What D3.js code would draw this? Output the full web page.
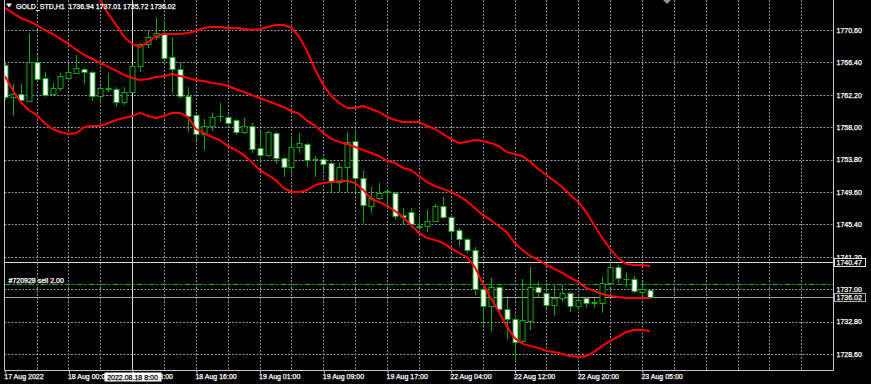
<!DOCTYPE html>
<html>
<head>
<meta charset="utf-8">
<script src="https://cdn.jsdelivr.net/npm/d3@7"></script>
<style>
  body { margin: 0; background: #000; }
  svg { display: block; }
  text { font-family: 'Liberation Sans', Arial, sans-serif; font-size: 7px; fill: #fff; stroke: #fff; stroke-width: 0.25px; }
</style>
</head>
<body>
<div id="chart"></div>
<script>
// chart data
const priceTicks = [1770.6, 1766.4, 1762.2, 1758.0, 1753.8, 1749.6, 1745.4, 1741.2, 1737.0, 1732.8, 1728.6];
const timeTickBars = [0, 8, 16, 24, 32, 40, 48, 56, 64, 72, 80];
const timeTickLabels = ['17 Aug 2022', '18 Aug 00:00', '18 Aug 08:00', '18 Aug 16:00', '19 Aug 01:00',
  '19 Aug 09:00', '19 Aug 17:00', '22 Aug 04:00', '22 Aug 12:00', '22 Aug 20:00', '23 Aug 05:00'];

const openPrices = [1766.07, 1761.92, 1762.31, 1761.40, 1766.45, 1764.38, 1762.31, 1763.09, 1764.38, 1765.03,
  1765.55, 1765.16, 1762.05, 1763.02, 1762.96, 1761.27, 1762.57, 1765.94, 1768.79, 1769.69,
  1770.21, 1767.10, 1765.55, 1762.05, 1759.59, 1757.12, 1758.16, 1759.46, 1759.33, 1758.94,
  1757.38, 1758.16, 1755.31, 1754.40, 1757.25, 1754.01, 1752.85, 1755.44, 1755.83, 1753.82,
  1753.88, 1753.37, 1750.90, 1752.85, 1756.22, 1751.42, 1747.79, 1748.83, 1749.67, 1749.48,
  1746.63, 1747.01, 1745.07, 1745.20, 1745.85, 1747.79, 1746.37, 1744.68, 1743.52, 1742.09,
  1737.04, 1734.83, 1737.29, 1734.44, 1733.15, 1730.30, 1732.89, 1737.29, 1736.52, 1734.96,
  1735.87, 1736.52, 1734.83, 1735.87, 1735.22, 1735.22, 1737.81, 1739.89, 1738.27, 1738.33,
  1736.65, 1736.94];
const highPrices = [1766.45, 1763.60, 1763.60, 1770.08, 1767.62, 1765.16, 1763.73, 1765.03, 1766.07, 1767.36,
  1765.68, 1765.29, 1763.34, 1765.03, 1763.21, 1763.21, 1766.07, 1768.92, 1770.47, 1772.16,
  1771.77, 1769.69, 1766.33, 1763.21, 1759.85, 1759.07, 1759.85, 1761.14, 1759.46, 1759.07,
  1759.20, 1758.55, 1757.51, 1757.51, 1757.38, 1754.14, 1756.73, 1757.25, 1755.96, 1754.27,
  1754.14, 1753.49, 1753.37, 1757.38, 1757.77, 1752.33, 1750.25, 1750.77, 1749.87, 1749.61,
  1747.53, 1747.53, 1746.63, 1747.27, 1748.05, 1748.96, 1746.50, 1744.94, 1743.65, 1742.48,
  1737.29, 1738.46, 1737.42, 1735.87, 1733.28, 1738.33, 1739.89, 1737.94, 1737.81, 1737.55,
  1737.55, 1736.65, 1736.26, 1736.00, 1735.87, 1738.59, 1740.41, 1740.15, 1739.11, 1738.72,
  1737.94, 1737.01];
const lowPrices = [1761.53, 1759.46, 1761.40, 1761.27, 1763.86, 1761.92, 1762.05, 1762.70, 1764.12, 1764.90,
  1763.60, 1761.40, 1761.40, 1762.57, 1760.62, 1760.88, 1762.44, 1765.16, 1768.27, 1769.31,
  1766.45, 1762.44, 1761.66, 1757.38, 1756.35, 1755.05, 1757.51, 1758.68, 1758.03, 1756.99,
  1757.12, 1754.66, 1753.37, 1754.14, 1753.24, 1751.55, 1752.07, 1754.66, 1752.85, 1751.55,
  1752.33, 1749.48, 1749.61, 1749.61, 1749.61, 1745.59, 1746.89, 1748.57, 1747.92, 1745.98,
  1745.33, 1745.07, 1744.94, 1744.42, 1745.72, 1746.11, 1743.65, 1742.61, 1741.70, 1736.26,
  1732.24, 1731.46, 1733.80, 1730.43, 1727.57, 1730.04, 1731.72, 1736.00, 1734.57, 1733.54,
  1735.35, 1734.05, 1734.31, 1734.57, 1734.57, 1733.93, 1737.68, 1737.81, 1737.29, 1736.52,
  1735.87, 1735.72];
const closePrices = [1761.92, 1762.31, 1761.53, 1766.45, 1764.25, 1762.18, 1763.09, 1764.64, 1765.16, 1765.68,
  1765.16, 1762.05, 1763.09, 1763.09, 1761.27, 1762.57, 1765.94, 1768.79, 1769.69, 1770.21,
  1766.97, 1765.55, 1762.05, 1759.46, 1757.12, 1758.16, 1759.33, 1759.50, 1758.55, 1757.38,
  1758.16, 1755.18, 1754.40, 1757.38, 1754.01, 1752.85, 1755.44, 1755.96, 1753.75, 1753.88,
  1753.24, 1750.90, 1752.85, 1756.09, 1751.42, 1747.92, 1748.83, 1749.48, 1749.48, 1746.50,
  1746.37, 1745.46, 1745.14, 1745.85, 1747.79, 1746.37, 1744.55, 1743.52, 1742.09, 1737.04,
  1734.83, 1737.29, 1734.44, 1733.15, 1730.17, 1733.02, 1737.29, 1736.65, 1734.96, 1735.87,
  1736.52, 1734.83, 1735.61, 1735.22, 1735.29, 1737.81, 1739.89, 1738.46, 1738.33, 1736.78,
  1737.04, 1736.02];

const bandUpper = [1782.27, 1782.78, 1783.04, 1783.30, 1782.91, 1782.65, 1782.40, 1781.49, 1780.45, 1778.77,
  1776.69, 1775.53, 1774.49, 1772.68, 1771.25, 1769.69, 1768.79, 1768.40, 1769.05, 1769.82,
  1770.08, 1770.08, 1770.08, 1770.21, 1770.47, 1770.86, 1770.99, 1770.99, 1770.86, 1770.86,
  1770.73, 1770.60, 1770.73, 1770.99, 1771.25, 1771.25, 1770.86, 1769.69, 1767.75, 1765.42,
  1763.47, 1762.05, 1761.14, 1760.49, 1760.49, 1760.75, 1760.36, 1759.97, 1759.33, 1758.94,
  1758.68, 1758.68, 1758.68, 1758.16, 1757.77, 1757.12, 1756.48, 1755.96, 1756.09, 1756.35,
  1756.22, 1755.96, 1755.57, 1754.79, 1754.53, 1754.27, 1753.49, 1752.59, 1751.81, 1751.03,
  1750.25, 1749.22, 1748.31, 1747.01, 1745.33, 1743.65, 1742.22, 1741.05, 1740.28, 1740.15,
  1740.15, 1740.02];
const bandMiddle = [1773.45, 1772.81, 1772.16, 1771.77, 1771.25, 1770.60, 1770.08, 1769.44, 1768.79, 1768.01,
  1767.36, 1766.84, 1766.33, 1765.81, 1765.29, 1764.77, 1764.38, 1764.12, 1764.25, 1764.51,
  1764.64, 1764.90, 1764.64, 1764.38, 1764.12, 1763.99, 1763.73, 1763.60, 1763.34, 1762.96,
  1762.57, 1762.18, 1761.79, 1761.40, 1761.01, 1760.62, 1760.10, 1759.72, 1758.81, 1758.16,
  1757.25, 1756.48, 1756.09, 1755.83, 1755.44, 1755.05, 1754.66, 1754.27, 1753.62, 1753.37,
  1752.72, 1752.46, 1751.68, 1750.90, 1750.38, 1750.00, 1749.61, 1749.09, 1748.44, 1747.53,
  1746.63, 1745.98, 1745.20, 1744.42, 1743.00, 1742.09, 1741.31, 1740.79, 1740.15, 1739.63,
  1739.11, 1738.46, 1737.94, 1737.17, 1736.78, 1736.39, 1736.13, 1736.00, 1735.87, 1735.87,
  1735.87, 1735.87];
const bandLower = [1764.64, 1762.83, 1761.27, 1760.23, 1759.59, 1758.55, 1757.77, 1757.38, 1757.12, 1757.25,
  1758.03, 1758.16, 1758.16, 1758.55, 1758.94, 1759.20, 1759.46, 1759.85, 1759.46, 1759.20,
  1759.46, 1759.85, 1759.85, 1759.33, 1757.77, 1757.25, 1756.73, 1756.35, 1755.57, 1755.05,
  1754.40, 1753.49, 1752.46, 1751.81, 1751.16, 1750.13, 1749.61, 1749.61, 1749.87, 1750.51,
  1750.77, 1750.90, 1751.03, 1751.03, 1750.77, 1749.87, 1748.70, 1748.31, 1747.79, 1747.14,
  1746.37, 1745.33, 1744.29, 1743.65, 1743.39, 1743.00, 1742.35, 1741.70, 1741.18, 1739.89,
  1737.81, 1735.87, 1734.18, 1732.24, 1730.69, 1729.91, 1729.65, 1729.39, 1729.00, 1728.87,
  1728.61, 1728.35, 1728.22, 1728.35, 1728.87, 1729.65, 1730.30, 1730.81, 1731.46, 1731.72,
  1731.72, 1731.59];

const title = 'GOLD_STD,H1  1736.94 1737.01 1735.72 1736.02';
const bidPrice = 1736.02;
const crossPrice = 1740.47;
const crossBar = 16;
const crossTimeLabel = '2022.08.18 8:00';
const orderPrice = 1737.68;
const orderLabel = '#720928 sell 2.00';

const width = 871;
const height = 384;
const plotLeft = 4.5;
const plotRight = 833.5;
const plotTop = 0;
const plotBottom = 370.5;
const green = '#12a812';

const svg = d3
  .select('#chart')
  .append('svg')
  .attr('width', width)
  .attr('height', height);

svg.append('rect').attr('width', width).attr('height', height).attr('fill', '#000');

const xScale = d3.scaleLinear().domain([0, 104]).range([4.74, 833.1]);
const yScale = d3.scaleLinear().domain([1728.6, 1770.6]).range([354, 30]);
const px = (v) => Math.round(v) + 0.5;

svg
  .append('clipPath')
  .attr('id', 'plot-clip')
  .append('rect')
  .attr('x', plotLeft)
  .attr('y', plotTop)
  .attr('width', plotRight - plotLeft)
  .attr('height', plotBottom - plotTop);

// grid
const grid = svg.append('g').attr('stroke', '#8a96a6').attr('stroke-dasharray', '2,1.5');
grid
  .selectAll('line.h')
  .data(priceTicks)
  .enter()
  .append('line')
  .attr('class', 'h')
  .attr('x1', plotLeft)
  .attr('x2', plotRight)
  .attr('y1', (d) => px(yScale(d)))
  .attr('y2', (d) => px(yScale(d)));
grid
  .selectAll('line.v')
  .data(d3.range(4, 104, 4))
  .enter()
  .append('line')
  .attr('class', 'v')
  .attr('x1', (d) => px(xScale(d)))
  .attr('x2', (d) => px(xScale(d)))
  .attr('y1', plotTop)
  .attr('y2', plotBottom);

const plot = svg.append('g').attr('clip-path', 'url(#plot-clip)');

// crosshair, bid and order lines (behind the candles)
plot
  .append('line')
  .attr('x1', px(xScale(crossBar)))
  .attr('x2', px(xScale(crossBar)))
  .attr('y1', plotTop)
  .attr('y2', plotBottom)
  .attr('stroke', '#d8d8d8');
plot
  .append('line')
  .attr('x1', plotLeft)
  .attr('x2', plotRight)
  .attr('y1', px(yScale(crossPrice)))
  .attr('y2', px(yScale(crossPrice)))
  .attr('stroke', '#d8d8d8');
plot
  .append('line')
  .attr('x1', plotLeft)
  .attr('x2', plotRight)
  .attr('y1', px(yScale(bidPrice)))
  .attr('y2', px(yScale(bidPrice)))
  .attr('stroke', '#a0a0a0');
plot
  .append('line')
  .attr('x1', plotLeft)
  .attr('x2', plotRight)
  .attr('y1', px(yScale(orderPrice)))
  .attr('y2', px(yScale(orderPrice)))
  .attr('stroke', '#19b019')
  .attr('stroke-dasharray', '6,2,2,2');

// candles
const bars = d3.range(openPrices.length);
const candles = plot.append('g').attr('id', 'candles');
candles
  .selectAll('line')
  .data(bars)
  .enter()
  .append('line')
  .attr('x1', (i) => px(xScale(i)))
  .attr('x2', (i) => px(xScale(i)))
  .attr('y1', (i) => yScale(highPrices[i]))
  .attr('y2', (i) => yScale(lowPrices[i]))
  .attr('stroke', green);
candles
  .selectAll('rect')
  .data(bars)
  .enter()
  .append('rect')
  .attr('x', (i) => px(xScale(i)) - 2.5)
  .attr('width', 5)
  .attr('y', (i) => Math.round(yScale(Math.max(openPrices[i], closePrices[i]))) + 0.5)
  .attr('height', (i) =>
    Math.max(Math.round(Math.abs(yScale(openPrices[i]) - yScale(closePrices[i]))), 0.01)
  )
  .attr('fill', (i) => (closePrices[i] >= openPrices[i] ? '#000' : '#fff'))
  .attr('stroke', green);

// bollinger bands
const bandLine = (values) =>
  d3
    .line()
    .x((d, i) => xScale(i))
    .y((d) => yScale(d))(values);
[bandUpper, bandMiddle, bandLower].forEach((band) => {
  plot
    .append('path')
    .attr('d', bandLine(band))
    .attr('fill', 'none')
    .attr('stroke', '#ff0000')
    .attr('stroke-width', 2)
    .attr('stroke-linejoin', 'round');
});

// frame
svg
  .append('path')
  .attr('d', `M${plotLeft},${plotTop}V${plotBottom}H${plotRight}V${plotTop}`)
  .attr('fill', 'none')
  .attr('stroke', '#c8c8c8');

// price axis
const yAxis = d3.axisRight(yScale).tickValues(priceTicks).tickFormat(d3.format('.2f')).tickSize(0).tickPadding(3);
const yAxisG = svg.append('g').attr('transform', `translate(${plotRight},0)`).call(yAxis);
yAxisG.select('.domain').remove();
yAxisG.selectAll('text').attr('fill', '#e8e8e8').attr('font-size', 7).attr('font-family', null);

// time axis
const xAxis = d3
  .axisBottom(xScale)
  .tickValues(timeTickBars)
  .tickFormat((d, i) => timeTickLabels[i])
  .tickSize(3)
  .tickPadding(1);
const xAxisG = svg.append('g').attr('transform', `translate(0,${plotBottom})`).call(xAxis);
xAxisG.select('.domain').remove();
xAxisG.selectAll('line').attr('stroke', '#c8c8c8').attr('transform', 'translate(0.5,0)');
xAxisG
  .selectAll('text')
  .attr('text-anchor', 'start')
  .attr('dx', -1)
  .attr('fill', '#e8e8e8')
  .attr('font-size', 7)
  .attr('font-family', null);

// crosshair time label
const crossX = px(xScale(crossBar));
svg.append('rect').attr('x', crossX - 28).attr('y', 372.5).attr('width', 57).attr('height', 9).attr('fill', '#fff');
svg
  .append('text')
  .attr('x', crossX)
  .attr('y', 380)
  .attr('text-anchor', 'middle')
  .style('fill', '#000')
  .style('stroke', '#000')
  .text(crossTimeLabel);

// price boxes on the axis
[
  { price: crossPrice, stroke: '#e0e0e0' },
  { price: bidPrice, stroke: '#b0b0b0' },
].forEach((b) => {
  const y = px(yScale(b.price));
  svg
    .append('rect')
    .attr('x', plotRight + 1)
    .attr('y', y - 4)
    .attr('width', 31)
    .attr('height', 8)
    .attr('fill', '#000')
    .attr('stroke', b.stroke);
  svg
    .append('text')
    .attr('x', plotRight + 3)
    .attr('y', y + 2.5)
    .style('fill', '#e8e8e8')
    .text(b.price.toFixed(2));
});

// order label
svg
  .append('text')
  .attr('x', 8.5)
  .attr('y', px(yScale(orderPrice)) - 2)
  .text(orderLabel);

// title
svg.append('path').attr('d', 'M6,3.5H12L9,7.5Z').attr('fill', '#fff');
svg.append('text').attr('x', 16).attr('y', 8.5).style('white-space', 'pre').text(title);

// chart shift marker
svg.append('path').attr('d', 'M663,0H671L667,4Z').attr('fill', '#8a96a6');
</script>
</body>
</html>
